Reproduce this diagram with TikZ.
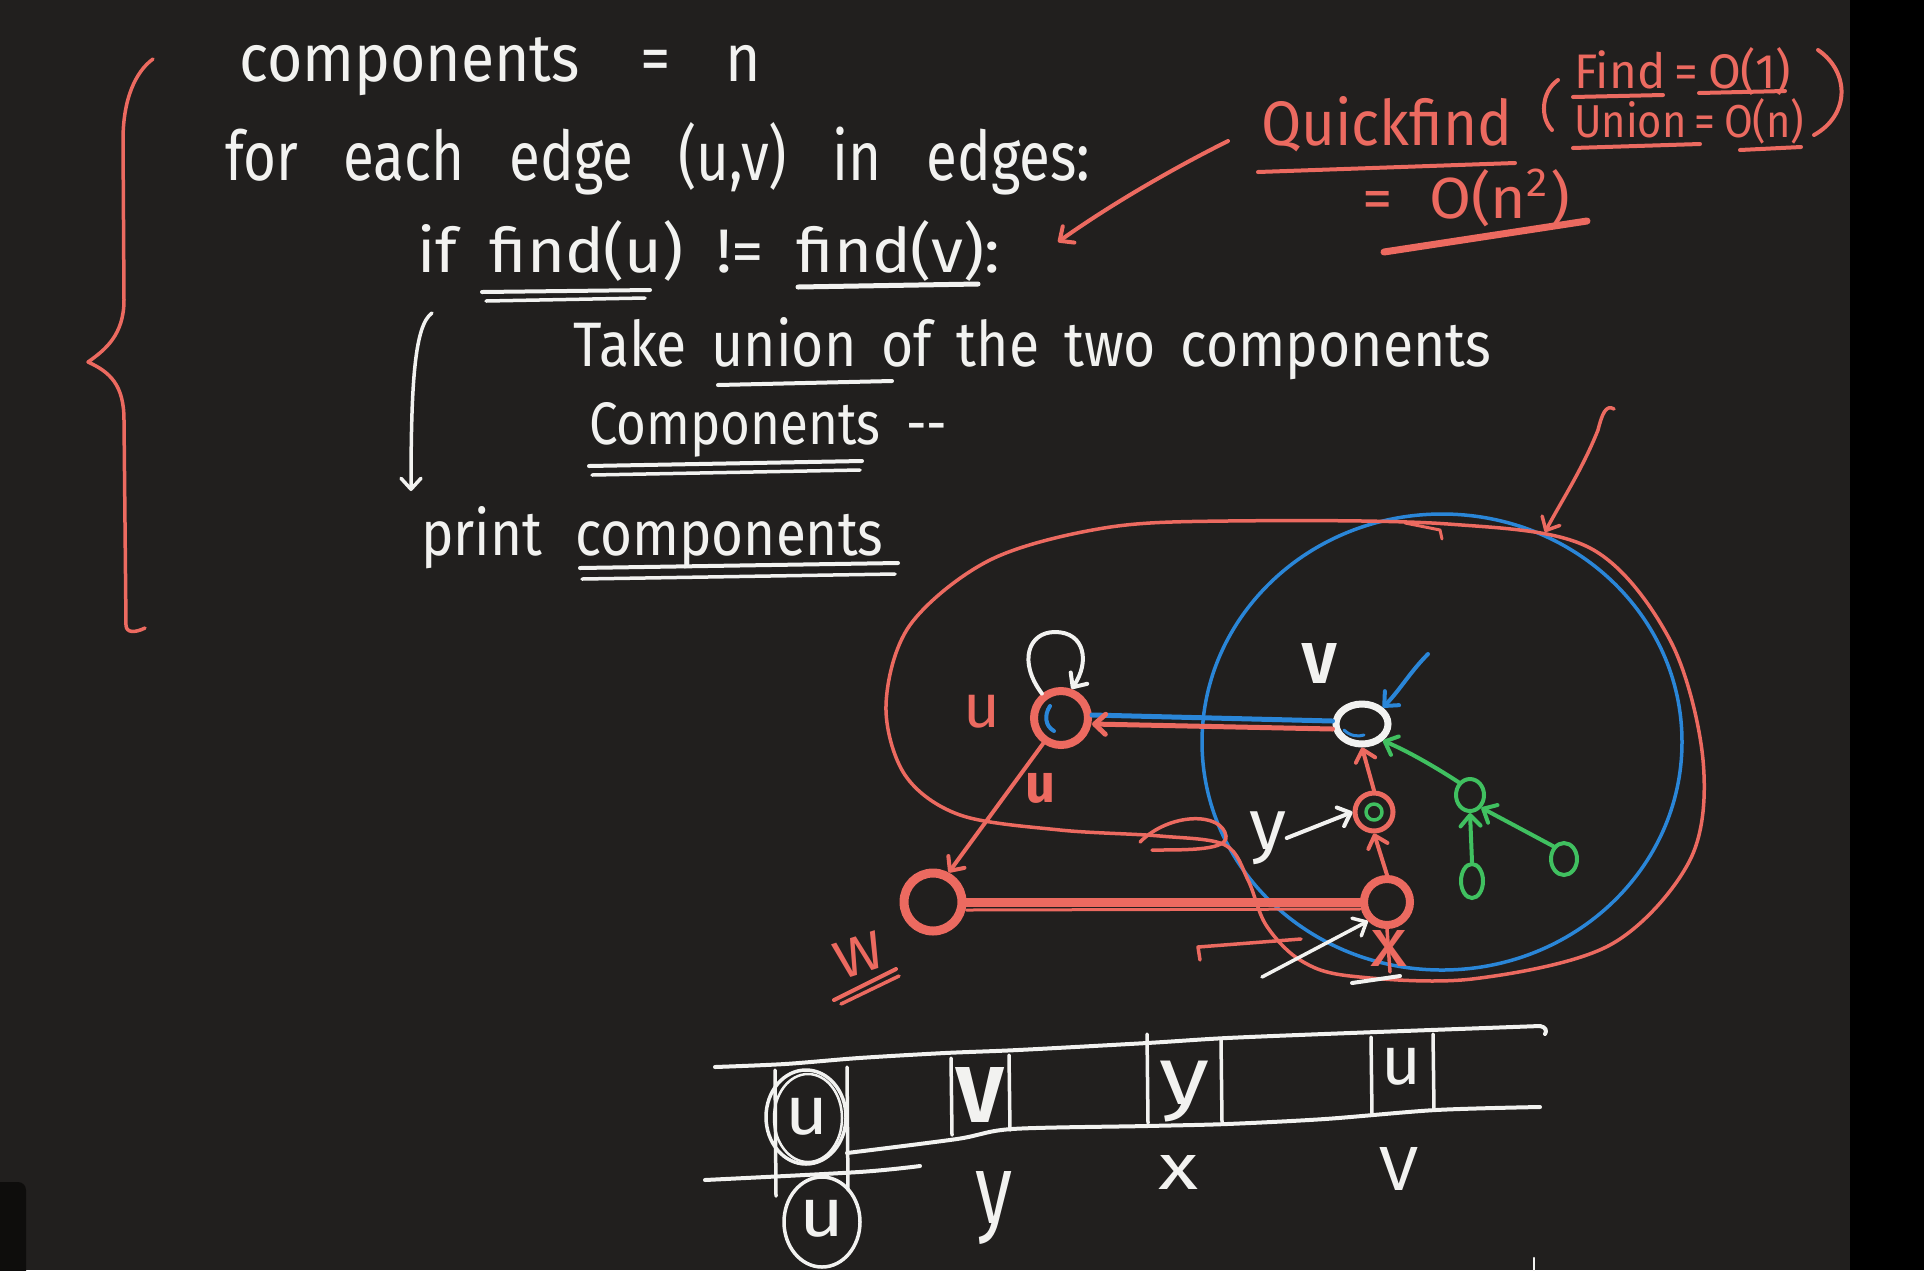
\documentclass[tikz,border=0pt]{standalone}
\usepackage{fontspec}
\setmainfont{Fira Sans}
\usepackage{graphicx}
\usetikzlibrary{arrows.meta,shapes.geometric}
\definecolor{bg}{RGB}{33,31,30}
\definecolor{rd}{RGB}{236,106,96}
\definecolor{bl}{RGB}{42,134,216}
\definecolor{gr}{RGB}{64,192,96}
\definecolor{wh}{RGB}{242,242,240}
\definecolor{dk}{RGB}{14,13,12}
\newcommand{\hwtext}[4]{\resizebox{#1pt}{#2pt}{\spaceskip=#3\relax #4}}
\newcommand{\hwbox}[3]{\resizebox*{#1pt}{#2pt}{#3}}
\begin{document}
\begin{tikzpicture}[x=1pt,y=-1pt,
  pen/.style={line width=#1,line cap=round,line join=round}, pen/.default=4pt,
  tip/.style={-{Straight Barb[length=11pt,width=20pt,round]}},
  hand/.style={inner sep=0pt,anchor=base west},
  lbl/.style={inner sep=0pt},
  ring/.style={circle,draw=#1,inner sep=0pt},
  oval/.style={ellipse,draw=#1,inner sep=0pt}]
\useasboundingbox (0,0) rectangle (1924,1270);
\clip (0,0) rectangle (1924,1270);
% background
\fill[bg] (0,0) rectangle (1924,1270);
\fill[black] (1850,0) rectangle (1924,1270);
\fill[dk,rounded corners=8pt] (-10,1182) rectangle (26,1290);

% ---------- code text ----------
\node[hand,text=wh] (t1) at (239,81) {\hwtext{522}{44}{0.5em}{components\hspace{1em}=\hspace{0.9em}n}};
\node[hand,text=wh] (t2) at (225,180) {\hwtext{865}{58}{0.8em}{for each edge (u,v) in edges:}};
\node[hand,text=wh] (t3) at (417,272) {\hwtext{583}{52}{0.5em}{if find(u) != find(v):}};
\node[hand,text=wh] (t4) at (573,366) {\hwtext{918}{49}{0.45em}{Take union of the two components}};
\node[hand,text=wh] (t5) at (589,444) {\hwtext{358}{42}{0.5em}{Components -{}-}};
\node[hand,text=wh] (t6) at (421,555) {\hwtext{462}{49}{0.6em}{print components}};
% underlines
\draw[wh,pen=4pt] (482,292) -- (650,290);
\draw[wh,pen=3.5pt] (486,301) -- (645,298);
\draw[wh,pen=5pt] (798,287) -- (978,284);
\draw[wh,pen=4pt] (718,385) -- (892,381);
\draw[wh,pen=4pt] (589,466) -- (862,461);
\draw[wh,pen=3.5pt] (592,475) -- (860,470);
\draw[wh,pen=4pt] (580,568) -- (898,563);
\draw[wh,pen=3.5pt] (582,579) -- (895,574);
% white flow arrow
\coordinate (ca1) at (432,313);
\coordinate (ca2) at (411,491);
\draw[wh,pen=3.5pt,tip] (ca1) .. controls (415,325) and (411,380) .. (ca2);
% red brace
\draw[rd,pen=3.5pt] (153,59) .. controls (135,72) and (123,100) .. (123,140) -- (124,300)
  .. controls (124,335) and (105,350) .. (88,362)
  .. controls (110,372) and (124,385) .. (124,420) -- (126,625)
  .. controls (126,633) and (135,633) .. (145,628);

% ---------- Quickfind annotation ----------
\node[hand,text=rd] (qf) at (1261,145) {\hwtext{251}{49}{0.3em}{Quickfind}};
\node[hand,text=rd] (qo) at (1362,218) {\hwtext{208}{49}{0.6em}{= O(n\textsuperscript{2})}};
\node[hand,text=rd] (qfa) at (1574,88) {\hwtext{217}{41}{0.2em}{Find = O(1)}};
\node[hand,text=rd] (qfb) at (1574,137) {\hwtext{230}{39}{0.2em}{Union = O(n)}};
\draw[rd,pen=4pt] (1258,172) -- (1515,163);
\draw[rd,pen=7pt] (1384,252) -- (1587,221);
\draw[rd,pen=4pt] (1573,97) -- (1663,95);
\draw[rd,pen=4pt] (1699,93) -- (1785,91);
\draw[rd,pen=4pt] (1573,148) -- (1700,144);
\draw[rd,pen=4pt] (1740,150) -- (1801,147);
\draw[rd,pen=4pt] (1558,80) .. controls (1541,92) and (1540,118) .. (1552,130);
\draw[rd,pen=4pt] (1818,50) .. controls (1850,72) and (1850,115) .. (1814,135);
\coordinate (qa) at (1228,141);
\coordinate (qb) at (1058,242);
\draw[rd,pen=4pt,tip] (qa) .. controls (1160,175) and (1100,212) .. (qb);

% ---------- graph region ----------
\draw[bl,pen=3.5pt] (1442,742) ellipse [x radius=240pt, y radius=228pt];
\draw[rd,pen=3.5pt] plot[smooth cycle,tension=0.55] coordinates {
  (1227,521) (1104,528) (990,560) (910,625) (886,705) (905,775) (960,815)
  (1060,830) (1160,836) (1225,845) (1248,880) (1266,925) (1300,960) (1350,976)
  (1472,979) (1610,945) (1690,860) (1703,760) (1670,640) (1590,548) (1448,524)};
\draw[rd,pen=3.5pt] (1140,842) .. controls (1170,812) and (1222,812) .. (1226,836)
  .. controls (1228,850) and (1190,850) .. (1152,850);
\draw[rd,pen=3pt] (1405,523) -- (1440,530) -- (1442,539);
\coordinate (ra) at (1614,409);
\coordinate (rb) at (1545,532);
\draw[rd,pen=3.5pt,tip] (ra) .. controls (1606,404) and (1602,414) .. (1598,430)
  .. controls (1582,470) and (1562,500) .. (rb);

% nodes
\node[ring=rd,line width=8pt,minimum size=54pt] (u) at (1061,718) {};
\node[oval=wh,line width=7pt,minimum width=52pt,minimum height=40pt] (v) at (1362,724) {};
\node[ring=rd,line width=5pt,minimum size=38pt] (ny) at (1374,812) {};
\node[ring=rd,line width=8pt,minimum size=46pt] (nx) at (1387,902) {};
\node[ring=rd,line width=9pt,minimum size=58pt] (w) at (933,902) {};
\node[oval=gr,line width=4pt,minimum width=28pt,minimum height=32pt] (g) at (1470,795) {};
\node[oval=gr,line width=4pt,minimum width=22pt,minimum height=34pt] (l1) at (1472,881) {};
\node[oval=gr,line width=4pt,minimum width=26pt,minimum height=32pt] (l2) at (1564,859) {};
\draw[gr,pen=3.5pt] (ny.center) circle [radius=8pt];
\draw[bl,pen=4pt] (1050,706) .. controls (1044,715) and (1045,726) .. (1054,731);
\draw[bl,pen=3pt] (1344,730) .. controls (1350,736) and (1358,737) .. (1364,735);

% labels
\node[lbl,text=rd] (lu) at (982,712) {\hwbox{37}{33}{u}};
\node[lbl,text=wh] (lv) at (1319,663) {\hwbox{34}{40}{\bfseries V}};
\node[lbl,text=wh] (ly) at (1268,838) {\hwbox{37}{53}{y}};
\node[lbl,text=rd] (lx) at (1389,948) {\hwbox{37}{36}{x}};
\node[lbl,text=rd,rotate=18] (lw) at (859,955) {\hwbox{49}{37}{W}};
\node[lbl,text=rd] (lu2) at (1040,788) {\hwbox{30}{30}{\bfseries u}};
\draw[rd,pen=4pt] (834,1000) -- (896,969);
\draw[rd,pen=3.5pt] (841,1004) -- (899,976);

% connectors
\draw[bl,pen=5pt] ([yshift=3pt]v.west) -- ([yshift=3pt]u.east);
\draw[rd,pen=5pt,tip] ([yshift=-5pt]v.west) -- ([yshift=-6pt]u.east);
\draw[rd,pen=4pt,tip] (u.235) -- (w.62);
\draw[rd,pen=9pt] (w.east) -- (nx.west);
\draw[rd,pen=3pt] ([yshift=-8pt]w.east) -- ([yshift=-7pt]nx.west);
\draw[rd,pen=4pt,tip] (nx.north) -- (ny.south);
\draw[rd,pen=4pt,tip] (ny.north) -- (v.south);
\draw[rd,pen=3.5pt] (nx.south) -- (1390,972);
\draw[gr,pen=4pt,tip] (g.north west) .. controls (1440,770) and (1410,752) .. (v.south east);
\draw[gr,pen=4pt,tip] (l1.north) -- (g.south);
\draw[gr,pen=4pt,tip] (l2.north west) -- (g.south east);
\draw[wh,pen=4pt,tip] (u.128) .. controls (1018,662) and (1028,632) .. (1055,632)
  .. controls (1085,632) and (1090,662) .. (u.70);
\coordinate (ba) at (1428,654);
\draw[bl,pen=4pt,tip] (ba) .. controls (1410,672) and (1400,690) .. (v.north east);
\draw[wh,pen=4pt,tip] (ly.east) -- (ny.west);
\coordinate (xa) at (1262,977);
\draw[wh,pen=3.5pt,tip] (xa) -- (nx.south west);
\draw[wh,pen=4pt] (1352,983) -- (1400,976);
\draw[rd,pen=3.5pt] (1301,939) -- (1198,947) -- (1200,960);

% ---------- array ----------
\draw[wh,pen=4pt] plot[smooth,tension=0.5] coordinates {(715,1067) (785,1064) (859,1058) (945,1053) (1018,1050) (1147,1043) (1227,1038) (1350,1033) (1540,1026)};
\draw[wh,pen=4pt] (1540,1026) .. controls (1546,1027) and (1547,1031) .. (1545,1034);
\draw[wh,pen=4pt] plot[smooth,tension=0.5] coordinates {(847,1153) (957,1139) (1012,1129) (1147,1126) (1227,1124) (1325,1119) (1436,1110) (1540,1107)};
\draw[wh,pen=4pt] plot[smooth,tension=0.5] coordinates {(705,1180) (859,1172) (920,1166)};
\draw[wh,pen=3.5pt] (775,1070) -- (776,1196);
\draw[wh,pen=3.5pt] (847,1067) -- (848,1190);
\draw[wh,pen=3.5pt] (951,1058) -- (952,1135);
\draw[wh,pen=3.5pt] (1009,1055) -- (1010,1130);
\draw[wh,pen=3.5pt] (1147,1034) -- (1148,1123);
\draw[wh,pen=3.5pt] (1221,1040) -- (1222,1122);
\draw[wh,pen=3.5pt] (1371,1037) -- (1372,1115);
\draw[wh,pen=3.5pt] (1433,1034) -- (1434,1110);
\node[lbl,text=wh] (c1) at (807,1117) {\hwbox{43}{37}{u}};
\node[lbl,text=wh] (c2) at (980,1095) {\hwbox{47}{55}{\bfseries V}};
\node[lbl,text=wh] (c3) at (1184,1092) {\hwbox{50}{61}{y}};
\node[lbl,text=wh] (c4) at (1401,1067) {\hwbox{40}{37}{u}};
\draw[wh,pen=3.5pt] (806,1117) ellipse [x radius=40pt, y radius=47pt];
\draw[wh,pen=2.5pt] (808,1118) ellipse [x radius=34pt, y radius=44pt];
\node[lbl,text=wh] (b1) at (822,1219) {\hwbox{45}{37}{u}};
\draw[wh,pen=3.5pt] (822,1222) ellipse [x radius=38pt, y radius=45pt];
\node[lbl,text=wh] (b2) at (994,1208) {\hwbox{37}{73}{y}};
\node[lbl,text=wh] (b3) at (1178,1172) {\hwbox{40}{34}{x}};
\node[lbl,text=wh] (b4) at (1399,1169) {\hwbox{39}{43}{V}};
\draw[wh,pen=2.5pt] (1534,1258) -- (1534,1272);
\end{tikzpicture}
\end{document}
